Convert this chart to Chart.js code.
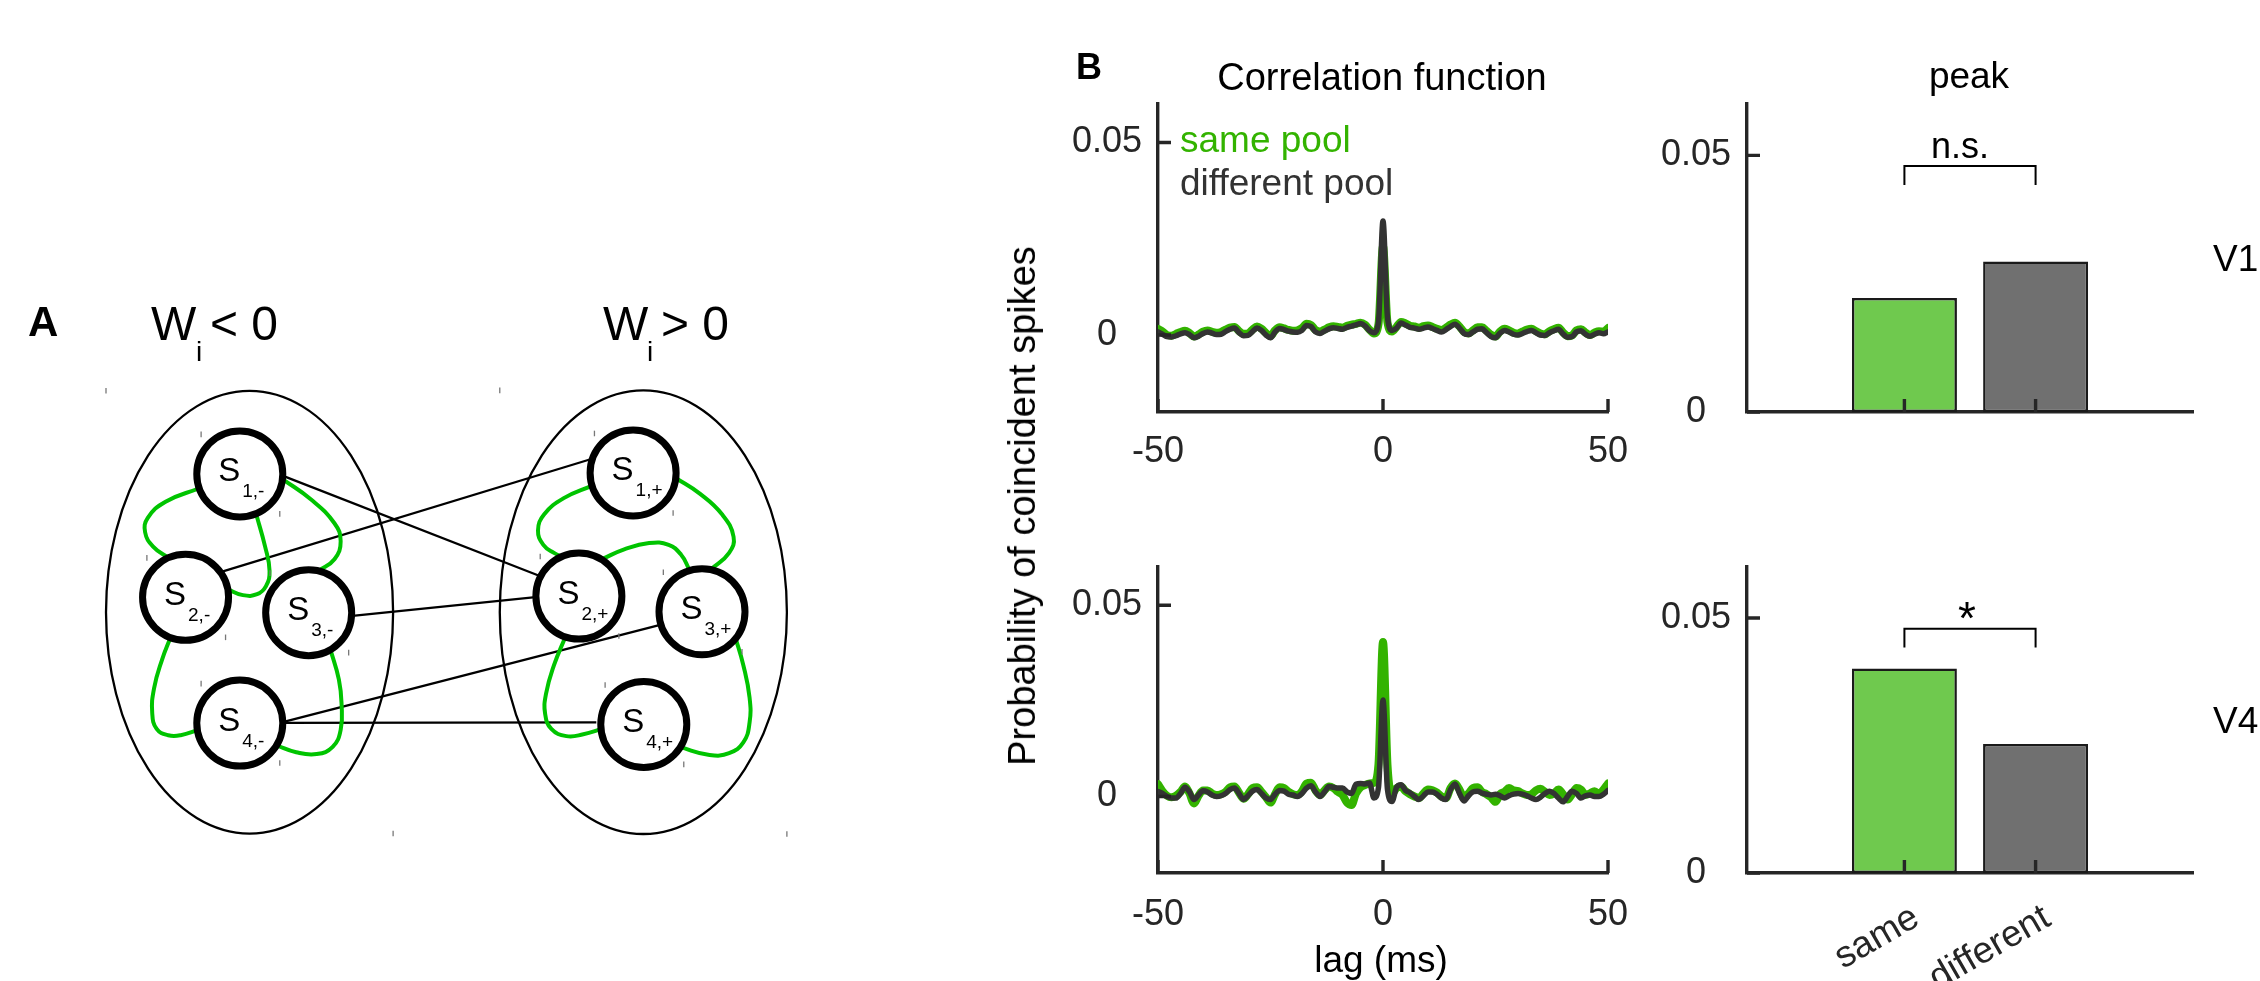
<!DOCTYPE html>
<html>
<head>
<meta charset="utf-8">
<title>Pool correlations</title>
<script src="https://cdn.jsdelivr.net/npm/chart.js@4.4.1/dist/chart.umd.min.js"></script>
<style>
  body { margin: 0; width: 2260px; height: 981px; background: #fff; position: relative; overflow: hidden;
         font-family: "Liberation Sans", Arial, sans-serif; color: #000; }
  canvas { position: absolute; }
  .t { position: absolute; white-space: nowrap; line-height: 1; }
  .mid { transform: translateX(-50%); }
</style>
</head>
<body>
<canvas id="netCanvas" style="left:0px;top:0px" width="900" height="981"></canvas>
<canvas id="corrV1" style="left:1032px;top:59px" width="621" height="413"></canvas>
<canvas id="corrV4" style="left:1032px;top:522px" width="621" height="459"></canvas>
<canvas id="peakV1" style="left:1620px;top:59px" width="640" height="413"></canvas>
<canvas id="peakV4" style="left:1620px;top:522px" width="640" height="459"></canvas>

<div class="t" style="left:28px;top:301px;font-size:42px;font-weight:bold">A</div>
<div class="t" style="left:151px;top:300px;font-size:48px">W</div>
<div class="t" style="left:196px;top:338px;font-size:28px">i</div>
<div class="t" style="left:210px;top:300px;font-size:48px">&lt; 0</div>
<div class="t" style="left:603px;top:300px;font-size:48px">W</div>
<div class="t" style="left:647px;top:338px;font-size:28px">i</div>
<div class="t" style="left:661px;top:300px;font-size:48px">&gt; 0</div>

<div class="t" style="left:1076px;top:49px;font-size:36px;font-weight:bold">B</div>
<div class="t mid" style="left:1382px;top:58px;font-size:38px">Correlation function</div>
<div class="t mid" style="left:1969px;top:57px;font-size:37px">peak</div>
<div class="t" style="left:1180px;top:121px;font-size:37px;color:#33b300">same pool</div>
<div class="t" style="left:1180px;top:164px;font-size:37px;color:#333333">different pool</div>
<div class="t mid" style="left:1960px;top:128px;font-size:36px">n.s.</div>
<div class="t mid" style="left:1967px;top:595px;font-size:46px">*</div>
<div class="t" style="left:2213px;top:240px;font-size:37px">V1</div>
<div class="t" style="left:2213px;top:702px;font-size:37px">V4</div>
<div class="t mid" style="left:1381px;top:941px;font-size:37px">lag (ms)</div>
<div class="t" style="left:1022px;top:506px;font-size:38px;transform:translate(-50%,-50%) rotate(-90deg)">Probability of coincident spikes</div>

<script>
// ---------- panel B data ----------
const lags = Array.from({ length: 101 }, (_, i) => i - 50); // lag in ms, -50 .. 50

// V1, different pool (dark line)
const v1Diff = [
  0.0008, 0.0002, -0.0004, -0.0005, -0.0002, 0.0003, 0.0006, 0.0001, -0.0007, -0.0003,
  0.0004, 0.0008, 0.0005, 0.0001, 0.0002, 0.0009, 0.0015, 0.0018, 0.0006, -0.0002,
  -0.0001, 0.0009, 0.0018, 0.0012, 0.0000, -0.0007, 0.0008, 0.0017, 0.0014, 0.0010,
  0.0008, 0.0007, 0.0012, 0.0025, 0.0022, 0.0008, 0.0004, 0.0010, 0.0016, 0.0019,
  0.0017, 0.0015, 0.0020, 0.0023, 0.0026, 0.0030, 0.0024, 0.0011, 0.0006, 0.0035,
  0.0296,
  0.0045, 0.0012, 0.0018, 0.0031, 0.0026, 0.0020, 0.0018, 0.0015, 0.0018, 0.0021,
  0.0017, 0.0012, 0.0008, 0.0014, 0.0022, 0.0028, 0.0018, 0.0004, 0.0001, 0.0008,
  0.0015, 0.0016, 0.0006, -0.0004, -0.0007, 0.0005, 0.0012, 0.0008, 0.0002, 0.0000,
  0.0004, 0.0009, 0.0012, 0.0006, 0.0000, -0.0001, 0.0006, 0.0011, 0.0015, 0.0003,
  -0.0006, -0.0004, 0.0008, 0.0011, 0.0002, -0.0003, 0.0002, 0.0006, 0.0003, 0.0008
];
// V1, same pool (green line)
const v1Same = [
  0.0016, 0.0009, 0.0000, -0.0002, 0.0003, 0.0008, 0.0011, 0.0005, -0.0004, 0.0001,
  0.0009, 0.0012, 0.0008, 0.0006, 0.0008, 0.0014, 0.0019, 0.0021, 0.0010, 0.0003,
  0.0004, 0.0014, 0.0022, 0.0016, 0.0005, -0.0003, 0.0012, 0.0020, 0.0017, 0.0013,
  0.0011, 0.0012, 0.0018, 0.0029, 0.0026, 0.0013, 0.0009, 0.0014, 0.0020, 0.0023,
  0.0021, 0.0019, 0.0024, 0.0027, 0.0029, 0.0032, 0.0027, 0.0014, 0.0004, 0.0028,
  0.0230,
  0.0032, 0.0009, 0.0021, 0.0034, 0.0030, 0.0024, 0.0022, 0.0019, 0.0023, 0.0025,
  0.0021, 0.0016, 0.0013, 0.0019, 0.0027, 0.0032, 0.0022, 0.0008, 0.0004, 0.0012,
  0.0020, 0.0020, 0.0011, 0.0001, -0.0004, 0.0009, 0.0016, 0.0012, 0.0006, 0.0004,
  0.0009, 0.0014, 0.0016, 0.0010, 0.0004, 0.0002, 0.0010, 0.0015, 0.0019, 0.0007,
  -0.0003, -0.0001, 0.0012, 0.0015, 0.0006, 0.0000, 0.0006, 0.0010, 0.0009, 0.0018
];
// V4, different pool (dark line)
const v4Diff = [
  0.0013, 0.0008, 0.0000, -0.0004, -0.0004, 0.0008, 0.0024, 0.0012, -0.0008, 0.0004,
  0.0015, 0.0012, 0.0004, 0.0000, 0.0002, 0.0008, 0.0018, 0.0022, 0.0008, -0.0008,
  0.0002, 0.0014, 0.0018, 0.0008, -0.0004, -0.0008, 0.0006, 0.0016, 0.0014, 0.0006,
  0.0004, 0.0000, 0.0008, 0.0022, 0.0028, 0.0012, 0.0000, 0.0012, 0.0026, 0.0024,
  0.0022, 0.0022, 0.0012, 0.0008, 0.0032, 0.0034, 0.0033, 0.0035, -0.0004, 0.0024,
  0.0252,
  0.0018, -0.0013, 0.0024, 0.0031, 0.0016, 0.0010, 0.0000, -0.0008, 0.0002, 0.0012,
  0.0012, 0.0006, -0.0004, -0.0008, 0.0018, 0.0033, 0.0008, -0.0012, 0.0002, 0.0012,
  0.0014, 0.0009, 0.0006, 0.0004, 0.0006, 0.0002, -0.0004, 0.0002, 0.0006, 0.0008,
  0.0006, 0.0002, -0.0004, -0.0008, -0.0002, 0.0008, 0.0014, 0.0008, -0.0004, -0.0014,
  0.0000, 0.0014, 0.0008, -0.0004, 0.0002, 0.0004, 0.0000, 0.0000, 0.0006, 0.0016
];
// V4, same pool (green line)
const v4Same = [
  0.0032, 0.0014, 0.0002, -0.0002, 0.0002, 0.0012, 0.0026, 0.0008, -0.0018, 0.0002,
  0.0016, 0.0016, 0.0008, 0.0004, 0.0006, 0.0012, 0.0024, 0.0026, 0.0010, -0.0006,
  0.0006, 0.0022, 0.0024, 0.0012, -0.0002, -0.0016, 0.0006, 0.0024, 0.0022, 0.0012,
  0.0006, 0.0004, 0.0014, 0.0034, 0.0036, 0.0016, 0.0004, 0.0016, 0.0026, 0.0022,
  0.0012, 0.0004, -0.0016, -0.0022, 0.0008, 0.0024, 0.0030, 0.0034, 0.0036, 0.0085,
  0.0404,
  0.0082, 0.0008, 0.0022, 0.0026, 0.0014, 0.0006, 0.0000, -0.0004, 0.0008, 0.0018,
  0.0016, 0.0010, 0.0000, -0.0004, 0.0022, 0.0034, 0.0018, -0.0004, 0.0008, 0.0022,
  0.0024, 0.0012, 0.0006, -0.0002, -0.0014, 0.0006, 0.0012, 0.0022, 0.0016, 0.0014,
  0.0008, 0.0004, 0.0006, 0.0016, 0.0020, 0.0012, 0.0004, 0.0008, 0.0018, 0.0006,
  -0.0008, 0.0006, 0.0022, 0.0018, 0.0004, 0.0008, 0.0014, 0.0006, 0.0018, 0.0034
];

const lagTicks = [-50, 0, 50];
const probTicks = [0, 0.05];

const barCats = ['same', 'different'];
const peakV1 = [0.0222, 0.0293];
const peakV4 = [0.0401, 0.0253];
const bracketLevels = [0.0442, 0.0479]; // foot, top of the significance bracket

// ---------- panel A data (schematic, in page pixels) ----------
const nodeNames = ['1,-', '2,-', '3,-', '4,-', '1,+', '2,+', '3,+', '4,+'];
const nodeX = [213.5, 152.5, 291, 213.5, 656, 595, 733.5, 668];
const nodeY = [472, 609.5, 626.5, 749.5, 471, 608, 625.5, 751];
const links = [
  [[260.7, 473.6], [551, 585.7]],
  [[191.8, 581.4], [611.8, 454.6]],
  [[337.5, 630.4], [549, 609]],
  [[260.7, 748.6], [688.6, 639.6]],
  [[260.7, 749.3], [614.6, 748.8]]
];
const loops = [
  [[168, 488], [130, 503], [110, 521], [107, 537], [116, 553], [134, 566]],
  [[232, 517], [242, 553], [247, 580], [243, 597], [233, 606], [217, 607], [199, 600]],
  [[262, 478], [293, 500], [320, 527], [327, 547], [320, 567], [302, 580]],
  [[136, 653], [126, 679], [117, 711], [115, 738], [120, 756], [133, 763], [147, 763], [167, 757]],
  [[315, 666], [325, 701], [328, 728], [327, 757], [318, 776], [300, 784], [277, 782], [254, 774]],
  [[610, 485], [578, 499], [556, 517], [549, 535], [555, 551], [567, 560], [578, 565]],
  [[621, 567], [646, 556], [674, 549], [696, 551], [710, 562], [719, 578]],
  [[703, 476], [731, 494], [756, 517], [769, 542], [764, 560], [744, 578]],
  [[580, 653], [567, 685], [558, 717], [557, 739], [564, 756], [581, 764], [600, 762], [621, 756]],
  [[771, 654], [780, 685], [787, 721], [787, 749], [780, 771], [764, 783], [742, 785], [708, 776]]
];
const poolCx = [224.5, 667.5];
const poolCy = [626, 626];
const poolRx = [161.5, 161.5];
const poolRy = [246.5, 247];

// ---------- styling ----------
const FONT = '"Liberation Sans", Arial, sans-serif';
const AX = '#262626';
const SAME_COL = '#33b300';
const DIFF_COL = '#333333';
const LOOP_COL = '#00c400';
const BAR_COLS = ['#6fc94e', '#707070'];

Chart.defaults.font.family = FONT;
Chart.defaults.color = AX;

// MATLAB style tick marks drawn inside the axes
const innerTicks = {
  id: 'innerTicks',
  afterDatasetsDraw(chart) {
    const { ctx, chartArea: a, scales: { x, y } } = chart;
    ctx.save();
    ctx.strokeStyle = AX;
    ctx.lineWidth = 3.4;
    ctx.beginPath();
    x.ticks.forEach(t => {
      const p = x.getPixelForValue(t.value);
      ctx.moveTo(p, a.bottom);
      ctx.lineTo(p, a.bottom - 13);
    });
    y.ticks.forEach(t => {
      const p = y.getPixelForValue(t.value);
      ctx.moveTo(a.left, p);
      ctx.lineTo(a.left + 13, p);
    });
    ctx.stroke();
    ctx.restore();
  }
};

function axisX(min, max, ticks, height, pad, showLabels) {
  return {
    type: 'linear', min: min, max: max, offset: false, z: 1,
    afterBuildTicks: s => { s.ticks = ticks.map(v => ({ value: v })); },
    afterFit: s => { s.height = height; },
    grid: { display: false, drawTicks: false },
    border: { color: AX, width: 3.4 },
    ticks: { display: showLabels, padding: pad, font: { size: 36 }, color: AX, maxRotation: 0, autoSkip: false,
             callback: v => String(v) }
  };
}
function axisY(min, max, width) {
  return {
    min: min, max: max, z: 1,
    afterBuildTicks: s => { s.ticks = probTicks.map(v => ({ value: v })); },
    afterFit: s => { s.width = width; },
    grid: { display: false, drawTicks: false },
    border: { color: AX, width: 3.4 },
    ticks: { padding: 16, font: { size: 36 }, color: AX, crossAlign: 'center', callback: v => String(v) }
  };
}

function corrChart(id, same, diff, xH, xPad) {
  return new Chart(document.getElementById(id), {
    type: 'line',
    data: {
      datasets: [
        { label: 'different pool', data: lags.map((l, i) => ({ x: l, y: diff[i] })), borderColor: DIFF_COL, borderWidth: 5.5 },
        { label: 'same pool', data: lags.map((l, i) => ({ x: l, y: same[i] })), borderColor: SAME_COL, borderWidth: 8 }
      ]
    },
    options: {
      animation: false, responsive: false, events: [],
      layout: { padding: { top: 45, right: 45, left: 0, bottom: 0 } },
      elements: {
        point: { radius: 0 },
        line: { cubicInterpolationMode: 'monotone', borderJoinStyle: 'round', borderCapStyle: 'round' }
      },
      plugins: { legend: { display: false }, tooltip: { enabled: false } },
      scales: {
        x: Object.assign(axisX(-50, 50, lagTicks, xH, xPad, true), { z: 0 }),
        y: Object.assign(axisY(-0.02, 0.06, 126), { z: 0 })
      }
    },
    plugins: [innerTicks]
  });
}

// rotated category names under the bottom bar chart
const slantLabels = {
  id: 'slantLabels',
  afterDraw(chart) {
    const { ctx, chartArea: a, scales: { x } } = chart;
    ctx.save();
    ctx.font = '37px ' + FONT;
    ctx.fillStyle = AX;
    ctx.textAlign = 'right';
    ctx.textBaseline = 'alphabetic';
    barCats.forEach((c, i) => {
      const p = x.getPixelForValue(i + 1);
      ctx.save();
      ctx.translate(p + 17, a.bottom + 51);
      ctx.rotate(-Math.PI / 6);
      ctx.fillText(c, 0, 0);
      ctx.restore();
    });
    ctx.restore();
  }
};

function peakChart(id, values, xH, extra) {
  return new Chart(document.getElementById(id), {
    type: 'bar',
    data: {
      datasets: [
        { type: 'line', data: [
            { x: 1, y: bracketLevels[0] }, { x: 1, y: bracketLevels[1] },
            { x: 2, y: bracketLevels[1] }, { x: 2, y: bracketLevels[0] }],
          borderColor: '#000', borderWidth: 2, pointRadius: 0, tension: 0 },
        { type: 'bar', data: barCats.map((c, i) => ({ x: i + 1, y: values[i] })),
          backgroundColor: BAR_COLS, borderColor: '#1a1a1a', borderWidth: 2.5, borderSkipped: false,
          barPercentage: 0.8, categoryPercentage: 1 }
      ]
    },
    options: {
      animation: false, responsive: false, events: [],
      layout: { padding: { top: 45, right: 67, left: 0, bottom: 0 } },
      plugins: { legend: { display: false }, tooltip: { enabled: false } },
      scales: {
        x: axisX(-0.2, 3.2, [1, 2], xH, 10, false),
        y: axisY(0, 0.06, 127)
      }
    },
    plugins: [innerTicks].concat(extra)
  });
}

// ---------- panel A ----------
const poolOutline = {
  id: 'poolOutline',
  beforeDatasetsDraw(chart) {
    const { ctx, scales: { x, y } } = chart;
    ctx.save();
    ctx.strokeStyle = '#000';
    ctx.lineWidth = 2.3;
    poolCx.forEach((cx, i) => {
      const px = x.getPixelForValue(cx), py = y.getPixelForValue(poolCy[i]);
      const rx = Math.abs(x.getPixelForValue(cx + poolRx[i]) - px);
      const ry = Math.abs(y.getPixelForValue(poolCy[i] + poolRy[i]) - py);
      ctx.beginPath();
      ctx.ellipse(px, py, rx, ry, 0, 0, 2 * Math.PI);
      ctx.stroke();
    });
    ctx.restore();
  }
};
const nodeText = {
  id: 'nodeText',
  afterDatasetsDraw(chart) {
    const { ctx } = chart;
    const meta = chart.getDatasetMeta(0);
    ctx.save();
    ctx.fillStyle = '#000';
    ctx.textAlign = 'left';
    ctx.textBaseline = 'alphabetic';
    meta.data.forEach((pt, i) => {
      ctx.font = '33px ' + FONT;
      ctx.fillText('S', pt.x - 21.5, pt.y + 7.5);
      ctx.font = '19px ' + FONT;
      ctx.fillText(nodeNames[i], pt.x + 2.5, pt.y + 23.5);
    });
    ctx.restore();
  }
};

// small corner specks left over from the exported drawing (bounding boxes of nodes and pools)
const specks = [];
nodeX.forEach((x, i) => {
  specks.push({ x: x - 43.5, y: nodeY[i] - 44 });
  specks.push({ x: x + 45, y: nodeY[i] + 44.5 });
});
poolCx.forEach((x, i) => {
  specks.push({ x: x - poolRx[i], y: poolCy[i] - poolRy[i] });
  specks.push({ x: x + poolRx[i], y: poolCy[i] + poolRy[i] });
});

const toPts = arr => arr.map(([x, y]) => ({ x: x, y: y }));
new Chart(document.getElementById('netCanvas'), {
  type: 'line',
  data: {
    datasets: [
      { data: nodeX.map((x, i) => ({ x: x, y: nodeY[i] })), showLine: false,
        pointRadius: 43, pointHoverRadius: 43, pointBorderWidth: 7,
        pointBackgroundColor: '#fff', pointBorderColor: '#000' },
      { data: specks, showLine: false, pointStyle: 'line', pointRotation: 90,
        pointRadius: 2.8, pointBorderWidth: 1.3, pointBorderColor: '#777' }
    ].concat(
      loops.map(l => ({ data: toPts(l), borderColor: LOOP_COL, borderWidth: 4, pointRadius: 0, tension: 0.45 })),
      links.map(l => ({ data: toPts(l), borderColor: '#000', borderWidth: 2.3, pointRadius: 0, tension: 0 }))
    )
  },
  options: {
    animation: false, responsive: false, events: [],
    layout: { padding: 0 },
    plugins: { legend: { display: false }, tooltip: { enabled: false } },
    scales: {
      x: { type: 'linear', min: 0, max: 900, display: false },
      y: { type: 'linear', min: 0, max: 981, reverse: true, display: false }
    }
  },
  plugins: [poolOutline, nodeText]
});

// ---------- panel B ----------
corrChart('corrV1', v1Same, v1Diff, 60, 18);
corrChart('corrV4', v4Same, v4Diff, 108, 20);
peakChart('peakV1', peakV1, 60, []);
peakChart('peakV4', peakV4, 108, [slantLabels]);
</script>
</body>
</html>
